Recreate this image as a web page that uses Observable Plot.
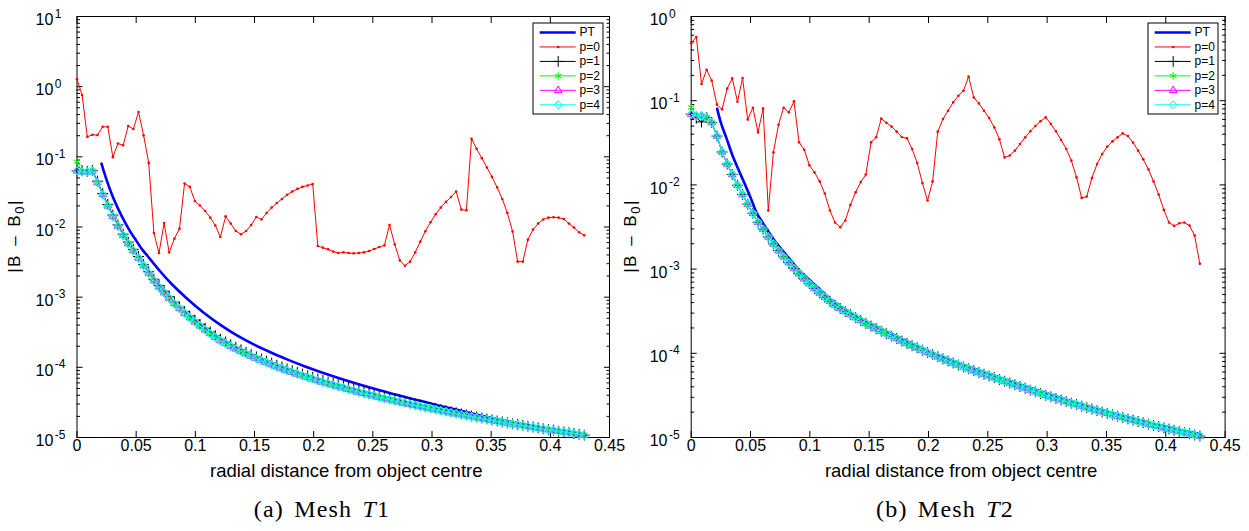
<!DOCTYPE html>
<html>
<head>
<meta charset="utf-8">
<script src="https://cdn.jsdelivr.net/npm/d3@7"></script>
<script src="https://cdn.jsdelivr.net/npm/@observablehq/plot@0.6"></script>
<style>
  html, body { margin: 0; padding: 0; background: #fff; }
  #wrap { position: relative; width: 1249px; height: 531px; overflow: hidden; font-family: "Liberation Sans", Arial, sans-serif; color: #000; }
  .panel { position: absolute; top: 0; }
  .legend { position: absolute; }
  .ylab { position: absolute; white-space: nowrap; font-size: 17px; letter-spacing: 1.5px; word-spacing: 2px; transform: translate(-50%, -50%) rotate(-90deg); }
  .ylab sub { font-size: 13px; vertical-align: -4px; }
  .cap { position: absolute; top: 497px; white-space: nowrap; font-family: "Liberation Serif", "DejaVu Serif", serif; font-size: 24px; line-height: 24px; letter-spacing: 1.2px; word-spacing: 3px; transform: translateX(-50%); }
</style>
</head>
<body>
<div id="wrap">
  <div id="panel1" class="panel" style="left:0px"></div>
  <div id="panel2" class="panel" style="left:624px"></div>
  <div id="leg1" class="legend" style="left:532px;top:22px"></div>
  <div id="leg2" class="legend" style="left:1147px;top:22px"></div>
  <div class="ylab" style="left:16px;top:236px">|B – B<sub>0</sub>|</div>
  <div class="ylab" style="left:632px;top:236px">|B – B<sub>0</sub>|</div>
  <div class="cap" style="left:322px">(a) Mesh <i>T</i>1</div>
  <div class="cap" style="left:945px">(b) Mesh <i>T</i>2</div>
</div>
<script>
// ---------------- data ----------------
const seriesNames = ["PT", "p=0", "p=1", "p=2", "p=3", "p=4"];
const xTitle = "radial distance from object centre";
const xTicks = [0, 0.05, 0.1, 0.15, 0.2, 0.25, 0.3, 0.35, 0.4, 0.45];
const yMajorT1 = [1e-5, 1e-4, 1e-3, 1e-2, 1e-1, 1e0, 1e1];
const yMajorT2 = [1e-5, 1e-4, 1e-3, 1e-2, 1e-1, 1e0];

// radial sample positions (shared by p=0..4)
const xGrid = [0,0.0043,0.0087,0.013,0.0173,0.0217,0.026,0.0303,0.0346,0.039,
0.0433,0.0476,0.052,0.0563,0.0606,0.065,0.0693,0.0736,0.0779,0.0823,
0.0866,0.0909,0.0953,0.0996,0.1039,0.1083,0.1126,0.1169,0.1212,0.1256,
0.1299,0.1342,0.1386,0.1429,0.1472,0.1516,0.1559,0.1602,0.1645,0.1689,
0.1732,0.1775,0.1819,0.1862,0.1905,0.1949,0.1992,0.2035,0.2078,0.2122,
0.2165,0.2208,0.2252,0.2295,0.2338,0.2382,0.2425,0.2468,0.2511,0.2555,
0.2598,0.2641,0.2685,0.2728,0.2771,0.2815,0.2858,0.2901,0.2944,0.2988,
0.3031,0.3074,0.3118,0.3161,0.3204,0.3248,0.3291,0.3334,0.3377,0.3421,
0.3464,0.3507,0.3551,0.3594,0.3637,0.3681,0.3724,0.3767,0.381,0.3854,
0.3897,0.394,0.3984,0.4027,0.407,0.4114,0.4157,0.42,0.4243,0.4287];

// ----- Mesh T1 -----
const ptXT1 = [0.0207,0.025,0.03,0.035,0.04,0.045,0.05,0.055,0.06,0.07,0.08,0.0931,0.1071,0.1212,0.1352,0.1493,0.1634,0.1775,0.1916,0.2057,0.2338,0.262,0.2901,0.3182,0.3464,0.3745,0.4027,0.43];
const ptYT1 = [0.080,0.047,0.0276,0.0178,0.0121,0.0086,0.0064,0.0048,0.0038,0.00236,0.00154,9.5e-4,6.0e-4,4.03e-4,2.85e-4,2.12e-4,1.64e-4,1.30e-4,1.045e-4,8.6e-5,6.03e-5,4.41e-5,3.33e-5,2.54e-5,1.96e-5,1.57e-5,1.29e-5,1.07e-5];

const p0T1 = [1.28,0.76,0.193,0.206,0.204,0.268,0.268,0.099,0.155,0.146,
0.275,0.249,0.435,0.202,0.082,0.0082,0.00425,0.0114,0.00435,0.00682,
0.00948,0.0417,0.0373,0.0235,0.0202,0.0169,0.0136,0.0105,0.0072,0.0142,
0.0112,0.00877,0.00787,0.00877,0.0107,0.0139,0.0128,0.0158,0.0189,0.022,
0.0251,0.0287,0.032,0.0349,0.0373,0.039,0.0411,0.00535,0.00508,0.0048,
0.00446,0.00425,0.00435,0.00425,0.00421,0.00425,0.00435,0.00454,0.00485,0.00518,
0.00548,0.0107,0.00566,0.00334,0.00281,0.00321,0.00435,0.00618,0.00869,0.0117,
0.0152,0.0189,0.0228,0.0268,0.032,0.0177,0.0173,0.181,0.13,0.0957,
0.0706,0.0518,0.0365,0.0251,0.0158,0.0086,0.00321,0.00321,0.0066,0.00918,
0.0112,0.0128,0.0136,0.0138,0.0136,0.013,0.0112,0.0098,0.0084,0.0076];

const p1T1 = [0.063,0.064,0.062,0.064,0.045,0.030,0.021,0.0148,0.0107,0.0079,
0.0061,0.0048,0.0038,0.0029,0.0023,0.0018,0.00147,0.00122,0.00102,0.00085,
7.2e-4,6.2e-4,5.4e-4,4.7e-4,4.1e-4,3.6e-4,3.18e-4,2.82e-4,2.52e-4,2.3e-4,
2.1e-4,1.93e-4,1.78e-4,1.64e-4,1.52e-4,1.41e-4,1.31e-4,1.23e-4,1.15e-4,1.07e-4,
1.01e-4,9.5e-5,8.95e-5,8.45e-5,8.0e-5,7.57e-5,7.18e-5,6.82e-5,6.5e-5,6.17e-5,
5.89e-5,5.61e-5,5.36e-5,5.12e-5,4.9e-5,4.68e-5,4.48e-5,4.3e-5,4.13e-5,3.95e-5,
3.79e-5,3.65e-5,3.5e-5,3.38e-5,3.25e-5,3.12e-5,3.0e-5,2.9e-5,2.79e-5,2.69e-5,
2.59e-5,2.5e-5,2.41e-5,2.33e-5,2.25e-5,2.17e-5,2.1e-5,2.03e-5,1.96e-5,1.9e-5,
1.84e-5,1.78e-5,1.72e-5,1.67e-5,1.62e-5,1.57e-5,1.53e-5,1.49e-5,1.45e-5,1.41e-5,
1.37e-5,1.33e-5,1.30e-5,1.27e-5,1.23e-5,1.20e-5,1.17e-5,1.14e-5,1.11e-5,1.08e-5];

const p2T1 = [0.085,0.061,0.061,0.063,0.043,0.029,0.020,0.0142,0.0103,0.0076,
0.0058,0.0046,0.0036,0.0028,0.0022,0.00172,0.0014,0.00116,0.00097,0.00081,
6.9e-4,5.9e-4,5.1e-4,4.45e-4,3.9e-4,3.42e-4,3.03e-4,2.68e-4,2.4e-4,2.19e-4,
2.0e-4,1.84e-4,1.69e-4,1.56e-4,1.44e-4,1.34e-4,1.25e-4,1.17e-4,1.09e-4,1.02e-4,
9.6e-5,9.0e-5,8.49e-5,8.02e-5,7.6e-5,7.19e-5,6.82e-5,6.48e-5,6.17e-5,5.86e-5,
5.59e-5,5.33e-5,5.09e-5,4.86e-5,4.65e-5,4.44e-5,4.26e-5,4.08e-5,3.92e-5,3.75e-5,
3.6e-5,3.47e-5,3.33e-5,3.21e-5,3.09e-5,2.97e-5,2.87e-5,2.77e-5,2.67e-5,2.58e-5,
2.49e-5,2.41e-5,2.33e-5,2.25e-5,2.18e-5,2.11e-5,2.05e-5,1.98e-5,1.92e-5,1.86e-5,
1.81e-5,1.76e-5,1.70e-5,1.66e-5,1.61e-5,1.56e-5,1.52e-5,1.48e-5,1.44e-5,1.40e-5,
1.36e-5,1.33e-5,1.29e-5,1.26e-5,1.23e-5,1.20e-5,1.17e-5,1.14e-5,1.11e-5,1.08e-5];

// p=3 and p=4 coincide in the figure
const p34T1 = [0.063,0.061,0.061,0.063,0.043,0.029,0.020,0.0142,0.0103,0.0076,
0.0058,0.0046,0.0036,0.0028,0.0022,0.00172,0.0014,0.00116,0.00097,0.00081,
6.9e-4,5.9e-4,5.1e-4,4.45e-4,3.9e-4,3.42e-4,3.03e-4,2.68e-4,2.4e-4,2.19e-4,
2.0e-4,1.84e-4,1.69e-4,1.56e-4,1.44e-4,1.34e-4,1.25e-4,1.17e-4,1.09e-4,1.02e-4,
9.6e-5,9.0e-5,8.49e-5,8.02e-5,7.6e-5,7.19e-5,6.82e-5,6.48e-5,6.17e-5,5.86e-5,
5.59e-5,5.33e-5,5.09e-5,4.86e-5,4.65e-5,4.44e-5,4.26e-5,4.08e-5,3.92e-5,3.75e-5,
3.6e-5,3.47e-5,3.33e-5,3.21e-5,3.09e-5,2.97e-5,2.87e-5,2.77e-5,2.67e-5,2.58e-5,
2.49e-5,2.41e-5,2.33e-5,2.25e-5,2.18e-5,2.11e-5,2.05e-5,1.98e-5,1.92e-5,1.86e-5,
1.81e-5,1.76e-5,1.70e-5,1.66e-5,1.61e-5,1.56e-5,1.52e-5,1.48e-5,1.44e-5,1.40e-5,
1.36e-5,1.33e-5,1.29e-5,1.26e-5,1.23e-5,1.20e-5,1.17e-5,1.14e-5,1.11e-5,1.08e-5];

// ----- Mesh T2 -----
const ptXT2 = [0.0219,0.025,0.03,0.035,0.04,0.045,0.05,0.055,0.06,0.07,0.08,0.09,0.1,0.12,0.14,0.17,0.2,0.24,0.28,0.32,0.36,0.4,0.43];
const ptYT2 = [0.080,0.055,0.035,0.022,0.015,0.0104,0.0071,0.0047,0.0036,0.0022,0.00148,0.0010,7.4e-4,4.15e-4,2.72e-4,1.68e-4,1.065e-4,6.45e-5,4.15e-5,2.72e-5,1.88e-5,1.35e-5,1.09e-5];

const p0T2 = [0.48,0.57,0.158,0.233,0.173,0.0897,0.0789,0.139,0.184,0.0973,
0.186,0.0596,0.0826,0.042,0.081,0.00496,0.0244,0.0519,0.0826,0.0727,
0.0982,0.032,0.0262,0.0171,0.0141,0.011,0.0079,0.00496,0.00358,0.00315,
0.00378,0.00579,0.00818,0.0108,0.0133,0.032,0.0368,0.0612,0.0548,0.0492,
0.0429,0.037,0.0357,0.0267,0.0182,0.0105,0.00652,0.011,0.0429,0.0607,
0.076,0.0955,0.1146,0.131,0.193,0.109,0.0929,0.076,0.0622,0.0482,
0.0347,0.0212,0.0223,0.0255,0.0306,0.0367,0.0433,0.0501,0.0569,0.0634,
0.053,0.0433,0.0342,0.0267,0.0194,0.0123,0.00701,0.00726,0.0121,0.0177,
0.0233,0.0285,0.0329,0.0367,0.0409,0.0381,0.0318,0.0255,0.0201,0.0153,
0.011,0.00767,0.00505,0.00357,0.00326,0.0035,0.00357,0.00329,0.0025,0.00116];

const p1T2 = [0.069,0.062,0.056,0.063,0.055,0.038,0.0246,0.0177,0.0133,0.0099,
0.0077,0.0059,0.0046,0.0036,0.00298,0.00241,0.00199,0.00166,0.0014,0.00119,
1.02e-3,8.8e-4,7.66e-4,6.7e-4,5.9e-4,5.2e-4,4.64e-4,4.15e-4,3.73e-4,3.41e-4,
3.13e-4,2.88e-4,2.65e-4,2.45e-4,2.27e-4,2.11e-4,1.96e-4,1.83e-4,1.71e-4,1.60e-4,
1.50e-4,1.40e-4,1.31e-4,1.23e-4,1.16e-4,1.09e-4,1.02e-4,9.66e-5,9.1e-5,8.58e-5,
8.11e-5,7.68e-5,7.26e-5,6.89e-5,6.54e-5,6.22e-5,5.91e-5,5.64e-5,5.38e-5,5.13e-5,
4.89e-5,4.66e-5,4.43e-5,4.23e-5,4.03e-5,3.85e-5,3.65e-5,3.49e-5,3.33e-5,3.18e-5,
3.04e-5,2.91e-5,2.79e-5,2.67e-5,2.56e-5,2.46e-5,2.36e-5,2.26e-5,2.18e-5,2.09e-5,
2.01e-5,1.94e-5,1.86e-5,1.79e-5,1.73e-5,1.66e-5,1.61e-5,1.55e-5,1.50e-5,1.44e-5,
1.39e-5,1.35e-5,1.30e-5,1.26e-5,1.22e-5,1.18e-5,1.14e-5,1.11e-5,1.07e-5,1.04e-5];

const p2T2 = [0.083,0.066,0.066,0.063,0.055,0.038,0.0246,0.0177,0.0133,0.0099,
0.0077,0.0059,0.0046,0.0036,0.00298,0.00241,0.00199,0.00166,0.0014,0.00119,
1.02e-3,8.8e-4,7.66e-4,6.7e-4,5.9e-4,5.2e-4,4.64e-4,4.15e-4,3.73e-4,3.41e-4,
3.13e-4,2.88e-4,2.65e-4,2.45e-4,2.27e-4,2.11e-4,1.96e-4,1.83e-4,1.71e-4,1.60e-4,
1.50e-4,1.40e-4,1.31e-4,1.23e-4,1.16e-4,1.09e-4,1.02e-4,9.66e-5,9.1e-5,8.58e-5,
8.11e-5,7.68e-5,7.26e-5,6.89e-5,6.54e-5,6.22e-5,5.91e-5,5.64e-5,5.38e-5,5.13e-5,
4.89e-5,4.66e-5,4.43e-5,4.23e-5,4.03e-5,3.85e-5,3.65e-5,3.49e-5,3.33e-5,3.18e-5,
3.04e-5,2.91e-5,2.79e-5,2.67e-5,2.56e-5,2.46e-5,2.36e-5,2.26e-5,2.18e-5,2.09e-5,
2.01e-5,1.94e-5,1.86e-5,1.79e-5,1.73e-5,1.66e-5,1.61e-5,1.55e-5,1.50e-5,1.44e-5,
1.39e-5,1.35e-5,1.30e-5,1.26e-5,1.22e-5,1.18e-5,1.14e-5,1.11e-5,1.07e-5,1.04e-5];

const p34T2 = [0.069,0.066,0.066,0.063,0.055,0.038,0.0246,0.0177,0.0133,0.0099,
0.0077,0.0059,0.0046,0.0036,0.00298,0.00241,0.00199,0.00166,0.0014,0.00119,
1.02e-3,8.8e-4,7.66e-4,6.7e-4,5.9e-4,5.2e-4,4.64e-4,4.15e-4,3.73e-4,3.41e-4,
3.13e-4,2.88e-4,2.65e-4,2.45e-4,2.27e-4,2.11e-4,1.96e-4,1.83e-4,1.71e-4,1.60e-4,
1.50e-4,1.40e-4,1.31e-4,1.23e-4,1.16e-4,1.09e-4,1.02e-4,9.66e-5,9.1e-5,8.58e-5,
8.11e-5,7.68e-5,7.26e-5,6.89e-5,6.54e-5,6.22e-5,5.91e-5,5.64e-5,5.38e-5,5.13e-5,
4.89e-5,4.66e-5,4.43e-5,4.23e-5,4.03e-5,3.85e-5,3.65e-5,3.49e-5,3.33e-5,3.18e-5,
3.04e-5,2.91e-5,2.79e-5,2.67e-5,2.56e-5,2.46e-5,2.36e-5,2.26e-5,2.18e-5,2.09e-5,
2.01e-5,1.94e-5,1.86e-5,1.79e-5,1.73e-5,1.66e-5,1.61e-5,1.55e-5,1.50e-5,1.44e-5,
1.39e-5,1.35e-5,1.30e-5,1.26e-5,1.22e-5,1.18e-5,1.14e-5,1.11e-5,1.07e-5,1.04e-5];

// ---------------- styles ----------------
const COLORS = {PT: "#0000ff", p0: "#ff0000", p1: "#000000", p2: "#00ff00", p3: "#ff00ff", p4: "#00ffff"};
const FONT = "'Liberation Sans', Arial, Helvetica, sans-serif";

function rows(xs, ys) { return xs.map((x, i) => ({x, y: ys[i]})); }
function minorTicks(lo, hi) {
  const out = [];
  for (let k = lo; k < hi; k++) for (let m = 2; m <= 9; m++) out.push(m * Math.pow(10, k));
  return out;
}
const fmtX = d => String(+d.toFixed(2));
const fmtY = d => "10^" + Math.round(Math.log10(d));

function superscripts(svg) {
  svg.querySelectorAll("text").forEach(t => {
    const s = t.textContent;
    if (s.indexOf("^") >= 0) {
      const parts = s.split("^");
      t.textContent = parts[0];
      const ts = document.createElementNS("http://www.w3.org/2000/svg", "tspan");
      ts.setAttribute("dy", "-7.5");
      ts.setAttribute("dx", "1.5");
      ts.setAttribute("font-size", "12");
      ts.textContent = parts[1];
      t.appendChild(ts);
    }
  });
}

function seriesMarks(data, color, symbol, r, sw) {
  return [
    Plot.line(data, {x: "x", y: "y", stroke: color, strokeWidth: 1}),
    symbol === "point"
      ? Plot.dot(data, {x: "x", y: "y", r: 1.3, fill: color, stroke: "none"})
      : Plot.dot(data, {x: "x", y: "y", symbol, r, stroke: color, fill: "none", strokeWidth: sw})
  ];
}

function panel(cfg) {
  const yMinor = minorTicks(cfg.decLo, cfg.decHi);
  const svg = Plot.plot({
    width: cfg.width, height: 490,
    marginLeft: cfg.ml, marginRight: cfg.mr, marginTop: 16, marginBottom: 53,
    style: {fontFamily: FONT, fontSize: "16px", background: "transparent", overflow: "visible", color: "#000"},
    x: {domain: [0, 0.45]},
    y: {type: "log", domain: cfg.yDomain},
    marks: [
      Plot.frame({stroke: "#000", strokeWidth: 1}),
      Plot.axisY(cfg.yMajor, {anchor: "left", tickSize: -6, fill: "none", label: null}),
      Plot.axisY(cfg.yMajor, {anchor: "right", tickSize: -6, fill: "none", label: null}),
      Plot.axisY(yMinor, {anchor: "left", tickSize: -3.5, fill: "none", label: null}),
      Plot.axisY(yMinor, {anchor: "right", tickSize: -3.5, fill: "none", label: null}),
      Plot.axisX(xTicks, {anchor: "bottom", tickSize: -6, fill: "none", label: null}),
      Plot.axisX(xTicks, {anchor: "top", tickSize: -6, fill: "none", label: null}),
      Plot.text(cfg.yMajor, {y: d => d, text: fmtY, frameAnchor: "left", dx: -41.5, dy: 3.5, textAnchor: "start", fontSize: 16, fill: "#000"}),
      Plot.text(xTicks, {x: d => d, text: fmtX, frameAnchor: "bottom", dy: 13, fontSize: 16, fill: "#000"}),
      Plot.text([xTitle], {text: d => d, frameAnchor: "bottom", dy: 39, dx: 3, fontSize: 18.5, fill: "#000"}),
      Plot.line(rows(cfg.ptX, cfg.ptY), {x: "x", y: "y", stroke: COLORS.PT, strokeWidth: 2.6, curve: "catmull-rom"}),
      ...seriesMarks(rows(xGrid, cfg.p0), COLORS.p0, "point"),
      ...seriesMarks(rows(xGrid, cfg.p1), COLORS.p1, "plus", 3.6, 1),
      ...seriesMarks(rows(xGrid, cfg.p2), COLORS.p2, "asterisk", 3.6, 1),
      ...seriesMarks(rows(xGrid, cfg.p3), COLORS.p3, "triangle2", 3.6, 1),
      ...seriesMarks(rows(xGrid, cfg.p4), COLORS.p4, "diamond2", 3.6, 1.2)
    ]
  });
  superscripts(svg);
  return svg;
}

function legend() {
  const keys = ["PT", "p0", "p1", "p2", "p3", "p4"];
  const symbols = [null, "point", "plus", "asterisk", "triangle2", "diamond2"];
  const marks = [Plot.frame({fill: "#fff", stroke: "#000", strokeWidth: 1, inset: 0.5})];
  seriesNames.forEach((name, i) => {
    const yy = 10 + 14.46 * i;
    const c = COLORS[keys[i]];
    marks.push(Plot.ruleY([yy], {y: d => d, x1: 7.7, x2: 43.7, stroke: c, strokeWidth: i === 0 ? 2.6 : 1}));
    if (symbols[i] === "point") marks.push(Plot.dot([yy], {x: 25.7, y: d => d, r: 1.3, fill: c, stroke: "none"}));
    else if (symbols[i]) marks.push(Plot.dot([yy], {x: 25.7, y: d => d, r: 3.6, symbol: symbols[i], stroke: c, fill: "none", strokeWidth: 1}));
    marks.push(Plot.text([name], {x: 47, y: () => yy, text: d => d, textAnchor: "start", fontSize: 12, fill: "#000"}));
  });
  return Plot.plot({
    width: 71, height: 92, margin: 0,
    style: {fontFamily: FONT, background: "transparent", overflow: "visible"},
    x: {domain: [0, 71], range: [0, 71], axis: null},
    y: {domain: [0, 92], range: [0, 92], axis: null},
    marks
  });
}

document.getElementById("panel1").appendChild(panel({
  width: 624, ml: 76.5, mr: 15, yDomain: [1e-5, 10], yMajor: yMajorT1, decLo: -5, decHi: 1,
  ptX: ptXT1, ptY: ptYT1, p0: p0T1, p1: p1T1, p2: p2T1, p3: p34T1, p4: p34T1
}));
document.getElementById("panel2").appendChild(panel({
  width: 625, ml: 66.7, mr: 24.4, yDomain: [1e-5, 1], yMajor: yMajorT2, decLo: -5, decHi: 0,
  ptX: ptXT2, ptY: ptYT2, p0: p0T2, p1: p1T2, p2: p2T2, p3: p34T2, p4: p34T2
}));
document.getElementById("leg1").appendChild(legend());
document.getElementById("leg2").appendChild(legend());
</script>
</body>
</html>
